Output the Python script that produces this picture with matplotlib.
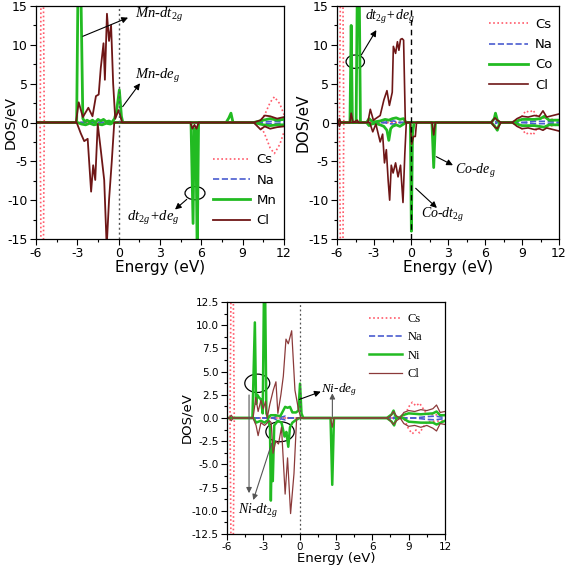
import matplotlib
matplotlib.use("Agg")
import matplotlib.pyplot as plt
from matplotlib.patches import Ellipse
from matplotlib.ticker import MultipleLocator, FormatStrFormatter

plt.rcParams['axes.unicode_minus'] = False
plt.rcParams['mathtext.fontset'] = 'custom'
plt.rcParams['mathtext.rm'] = 'Liberation Serif'
plt.rcParams['mathtext.it'] = 'Liberation Serif:italic'

# ---------------- Panel 1 : Mn ----------------
cs1_up_x = [-6, -5.7, -5.55, -5.4, 10.2, 10.6, 11.0, 11.3, 11.7, 12.0]
cs1_up_y = [0, 0, 40, 0, 0, 1.0, 2.6, 3.3, 2.4, 1.0]
cs1_dn_x = [-6, -5.7, -5.55, -5.4, 10.2, 10.6, 11.0, 11.3, 11.7, 12.0]
cs1_dn_y = [0, 0, -40, 0, 0, -1.5, -3.3, -4.0, -2.8, -1.2]
na1_up_x = [-6, 10.0, 10.6, 11.2, 12]
na1_up_y = [0, 0, 0.1, 0.15, 0.1]
na1_dn_x = [-6, 10.0, 10.6, 11.2, 12]
na1_dn_y = [0, 0, -0.1, -0.15, -0.1]
mn_up_x = [-6, -3.05, -2.95, -2.75, -2.6, -2.45, -2.3, -2.1, -1.9, -1.7, -1.5, -1.3, -1.1,
           -0.9, -0.7, -0.5, -0.3, -0.15, 0.05, 0.2, 0.3, 7.8, 8.0, 8.15, 8.3, 9.8, 10.5,
           11.0, 11.5, 12]
mn_up_y = [0, 0, 18, 18, 0.5, 0.1, 0.3, 0.1, 0.3, 0.0, 0.4, 0.2, 0.4,
           0.1, 0.2, 0, 0.5, 1.5, 4.2, 0.8, 0, 0, 0.6, 1.2, 0, 0, 0.3,
           0.5, 0.3, 0.4]
mn_dn_x = [-6, -3.0, -2.7, -2.4, -2.1, -1.8, -1.5, -1.2, -0.9, -0.6, -0.4, 5.25, 5.4, 5.48,
           5.6, 5.7, 5.8, 9.8, 10.5, 11.0, 11.5, 12]
mn_dn_y = [0, 0, -0.2, -0.3, -0.1, -0.3, -0.2, -0.3, -0.1, -0.2, 0, 0, -13, -0.8,
           -0.8, -17, 0, 0, -0.3, -0.4, -0.3, -0.3]
cl1_up_x = [-6, -3.1, -2.9, -2.6, -2.2, -1.9, -1.65, -1.45, -1.3, -1.1, -1.0, -0.85, -0.7,
            -0.55, -0.4, -0.25, 0.0, 0.25, 9.8, 10.3, 10.6, 11.0, 11.5, 12]
cl1_up_y = [0, 0, 2.6, 0.7, 1.9, 0.8, 3.4, 3.6, 7.0, 10.2, 5.5, 14.0, 10.5,
            12.5, 5.0, 0.5, 1.6, 0, 0, 0.3, 0.9, 0.8, 0.5, 0.7]
cl1_dn_x = [-6, -3.05, -2.75, -2.5, -2.25, -2.0, -1.85, -1.7, -1.52, -1.3, -1.05, -0.87,
            -0.7, -0.5, -0.32, 5.2, 5.35, 5.5, 5.65, 5.8, 9.8, 10.3, 10.6, 11.0, 11.5, 12]
cl1_dn_y = [0, 0, -1.4, -2.4, -2.1, -8.9, -5.5, -7.4, -0.2, -3.5, -7.4, -16,
            -10, -5, 0, 0, -0.8, -0.3, -0.8, 0, 0, -0.9, -0.5, -0.8, -0.6, -0.5]

# ---------------- Panel 2 : Co ----------------
cs2_up_x = [-6, -5.8, -5.62, -5.45, 8.6, 9.0, 9.3, 9.6, 9.9, 10.2, 10.6, 11.0, 12]
cs2_up_y = [0, 0, 40, 0, 0, 0.8, 1.5, 1.3, 1.6, 0.8, 0.6, 0.5, 0.3]
cs2_dn_x = [-6, -5.8, -5.62, -5.45, 8.6, 9.0, 9.3, 9.6, 9.9, 10.2, 10.6, 11.0, 12]
cs2_dn_y = [0, 0, -40, 0, 0, -0.8, -1.5, -1.3, -1.6, -0.8, -0.6, -0.5, -0.3]
na2_up_x = [-6, -2.2, -1.8, -1.4, -1.0, 6.6, 6.8, 7.0, 9.0, 10.0, 10.8, 12]
na2_up_y = [0, 0, 0.15, 0.2, 0, 0, 0.2, 0, 0, 0.15, 0.15, 0.05]
na2_dn_x = [-6, -2.2, -1.8, -1.4, -1.0, 6.6, 6.8, 7.0, 9.0, 10.0, 10.8, 12]
na2_dn_y = [0, 0, -0.15, -0.2, 0, 0, -0.2, 0, 0, -0.15, -0.15, -0.05]
co_up_x = [-6, -4.95, -4.85, -4.75, -4.45, -4.35, -4.2, -4.1, -3.6, -3.4, -3.2, -2.9, -2.5,
           -2.1, -1.8, -1.5, -1.2, -0.9, -0.6, -0.4, 6.5, 6.75, 6.85, 7.0, 7.2, 8.2, 9.0,
           10.0, 10.5, 10.8, 11.2, 12]
co_up_y = [0, 0, 12.5, 0, 0, 18, 18, 0, 0, 0.5, 0.2, 0.1, 0.2,
           0.4, 0.3, 0.5, 0.6, 0.4, 0.5, 0, 0, 0.5, 1.2, 0.3, 0, 0, 0.4,
           0.4, 0.5, 0.8, 0.3, 0.3]
co_dn_x = [-6, -3.6, -3.4, -3.2, -2.9, -2.5, -2.2, -1.95, -1.8, -1.65, -1.5, -1.2, -0.9,
           -0.6, -0.4, -0.05, 0.03, 0.12, 0.25, 1.7, 1.84, 1.98, 6.5, 6.8, 7.0, 7.2, 8.2,
           9.0, 10.0, 10.8, 11.2, 12]
co_dn_y = [0, 0, -0.4, -0.2, -0.1, -0.3, -0.5, -1.0, -2.3, -0.8, -0.5, -0.3, -0.5,
           -0.2, 0, 0, -14, -1.5, 0, 0, -5.8, 0, 0, -0.5, -1.0, 0, 0,
           -0.4, -0.4, -0.6, -0.3, -0.3]
cl2_up_x = [-6, -5.9, -5.8, -5.7, -4.95, -4.85, -4.7, -4.35, -4.25, -3.5, -3.3, -3.05, -2.5,
            -2.2, -1.95, -1.75, -1.52, -1.43, -1.25, -1.1, -0.98, -0.85, -0.72, -0.6,
            -0.46, 6.5, 6.8, 7.0, 7.3, 8.2, 8.6, 9.0, 9.5, 10.0, 10.4, 10.7, 11.0, 11.5, 12]
cl2_up_y = [0, 0, 0.5, 0, 0, 1.2, 0, 0.3, 0, 0, 1.7, 0.3, 0.9,
            2.9, 4.1, 2.2, 3.9, 9.8, 8.9, 10.4, 9.3, 10.7, 10.8, 10.6,
            0, 0, 0.6, 0.3, 0, 0, 0.5, 0.8, 0.7, 0.9, 0.8, 1.5, 0.7, 0.9, 1.1]
cl2_dn_x = [-6, -5.9, -5.8, -5.7, -3.35, -3.1, -2.85, -2.5, -2.3, -2.15, -2.0, -1.85, -1.73,
            -1.6, -1.45, -1.25, -1.05, -0.85, -0.65, -0.5, -0.38, -0.05, 0.05, 0.2, 0.35,
            0.45, 1.7, 1.84, 1.98, 6.5, 6.8, 7.0, 7.3, 8.2, 8.6, 9.0, 9.5, 10.0, 10.4,
            10.7, 11.0, 11.5, 12]
cl2_dn_y = [0, 0, -0.5, 0, 0, -1.2, -0.2, -2.5, -1.5, -5.2, -3.5, -7.5, -10.0,
            -5.5, -6.5, -5.2, -7.0, -5.5, -10.3, -4.0, 0, 0, -2.8, -1.8, -1.8,
            0, 0, -1.6, 0, 0, -0.6, -0.8, 0, 0, -0.5, -0.8, -0.7, -0.9, -0.8,
            -1.0, -0.7, -0.9, -1.1]

# ---------------- Panel 3 : Ni ----------------
cs3_up_x = [-6, -5.75, -5.58, -5.4, 8.6, 9.0, 9.3, 9.6, 9.9, 10.2, 10.5, 12]
cs3_up_y = [0, 0, 30, 0, 0, 1.2, 1.7, 1.3, 1.6, 1.0, 0.4, 0.3]
cs3_dn_x = [-6, -5.75, -5.58, -5.4, 8.6, 9.0, 9.3, 9.6, 9.9, 10.2, 10.5, 12]
cs3_dn_y = [0, 0, -30, 0, 0, -1.2, -1.7, -1.3, -1.6, -1.0, -0.4, -0.3]
na3_up_x = [-6, -2.2, -1.9, -1.5, -1.2, -0.9, 7.4, 7.6, 7.8, 9.5, 10.5, 11.2, 12]
na3_up_y = [0, 0, 0.2, 0.1, 0.2, 0, 0, 0.2, 0, 0, 0.15, 0.2, 0.05]
na3_dn_x = [-6, -2.2, -1.9, -1.5, -1.2, -0.9, 7.4, 7.6, 7.8, 9.5, 10.5, 11.2, 12]
na3_dn_y = [0, 0, -0.2, -0.1, -0.2, 0, 0, -0.2, 0, 0, -0.15, -0.2, -0.05]
ni_up_x = [-6, -3.9, -3.7, -3.6, -3.5, -3.35, -3.2, -3.05, -2.95, -2.85, -2.75, -2.6, -2.4,
           -2.0, -1.6, -1.2, -1.0, -0.8, -0.6, -0.3, -0.1, 0.03, 0.15, 0.3, 7.2, 7.6, 7.75,
           7.9, 8.2, 8.5, 9.0, 10.0, 11.0, 11.3, 11.6, 12]
ni_up_y = [0, 0, 10.3, 1.5, 2.5, 2.2, 2.0, 0.5, 13.5, 13.5, 0.5, 0, 0.3,
           0.3, 0.2, 1.2, 1.1, 1.2, 0.6, 0.6, 0.8, 3.7, 0.5, 0, 0, 0.4, 0.8,
           0.2, 0, 0.3, 0.5, 0.4, 0.5, 0.7, 0.3, 0.3]
ni_dn_x = [-6, -3.8, -3.6, -3.2, -2.9, -2.6, -2.45, -2.38, -2.3, -2.22, -2.1, -1.8, -1.5,
           -1.25, -1.1, -0.94, -0.8, -0.6, -0.3, 0, 2.55, 2.69, 2.83, 7.2, 7.6, 7.8, 8.0,
           8.5, 9.0, 10.0, 11.0, 11.3, 12]
ni_dn_y = [0, 0, -0.5, -0.3, -0.5, -0.2, -1.0, -8.9, -3.0, -6.8, -0.8, -0.3, -0.5,
           -2.0, -1.5, -3.1, -1.0, -0.5, -0.2, 0, 0, -7.2, 0, 0, -0.4, -0.8, 0,
           0, -0.4, -0.5, -0.5, -0.7, -0.3]
cl3_up_x = [-6, -5.8, -5.65, -5.5, -3.85, -3.62, -3.43, -3.2, -3.0, -2.82, -2.68, -2.46,
            -2.18, -1.96, -1.8, -1.55, -1.35, -1.13, -0.94, -0.66, -0.39, -0.11, 0.1, 7.2,
            7.5, 7.75, 8.0, 8.3, 8.6, 9.0, 9.5, 10.0, 10.5, 11.0, 11.3, 11.6, 12]
cl3_up_y = [0, 0, 0.3, 0, 0, 2.2, 0.7, 1.9, 1.0, 1.8, 0, 1.5,
            3.0, 3.9, 0.5, 2.5, 4.5, 8.5, 8.0, 9.4, 3.0, 1.0, 0, 0,
            0.2, 0.7, 0.2, 0, 0.6, 0.8, 0.7, 0.9, 0.8, 1.0, 1.4, 0.6, 0.7]
cl3_dn_x = [-6, -5.8, -5.65, -5.5, -3.85, -3.6, -3.43, -3.2, -2.9, -2.5, -2.35, -2.2,
            -1.97, -1.75, -1.5, -1.2, -1.0, -0.75, -0.47, -0.25, 2.55, 2.69, 2.83, 7.2,
            7.5, 7.75, 8.0, 8.3, 8.6, 9.0, 9.5, 10.0, 10.5, 11.0, 11.3, 11.6, 12]
cl3_dn_y = [0, 0, -0.3, 0, 0, -0.8, -1.9, -0.5, -0.8, -0.3, -0.5, -3.8,
            -2.5, -2.8, -1.0, -8.2, -4.3, -10.3, -6.0, 0, 0, -1.0, 0, 0,
            -0.3, -0.7, -0.3, 0, -0.6, -0.9, -0.8, -1.0, -0.8, -1.1, -1.4, -0.6, -0.7]

x_ticks = [-6, -3, 0, 3, 6, 9, 12]
legend_labels1 = ['Cs', 'Na', 'Mn', 'Cl']
legend_labels2 = ['Cs', 'Na', 'Co', 'Cl']
legend_labels3 = ['Cs', 'Na', 'Ni', 'Cl']

C_CS = '#ff5a6a'
C_NA = '#4a5ccf'
C_TM = '#22bb22'
C_CL = '#6e1616'
C_CL3 = '#8b3a3a'

fig = plt.figure(figsize=(5.67, 5.71), dpi=100)
ax1 = fig.add_axes([36/567, 1-239/571, 248/567, 233/571])
ax2 = fig.add_axes([337/567, 1-239/571, 222/567, 233/571])
ax3 = fig.add_axes([227/567, 1-534/571, 218/567, 232/571])


def draw(ax, cs, na, tm, cl, cl_color, tm_lw, cl_lw):
    l1, = ax.plot(cs[0], cs[1], color=C_CS, ls=(0, (1, 1.5)), lw=1.2)
    ax.plot(cs[2], cs[3], color=C_CS, ls=(0, (1, 1.5)), lw=1.2)
    l2, = ax.plot(na[0], na[1], color=C_NA, ls='--', lw=1.2)
    ax.plot(na[2], na[3], color=C_NA, ls='--', lw=1.2)
    l3, = ax.plot(tm[0], tm[1], color=C_TM, lw=tm_lw)
    ax.plot(tm[2], tm[3], color=C_TM, lw=tm_lw)
    l4, = ax.plot(cl[0], cl[1], color=cl_color, lw=cl_lw)
    ax.plot(cl[2], cl[3], color=cl_color, lw=cl_lw)
    return [l1, l2, l3, l4]


def style(ax, ylim, ymaj, ymin, fs, lfs, fmt, ylab_x):
    ax.set_xlim(-6, 12)
    ax.set_ylim(*ylim)
    ax.set_xticks(x_ticks)
    ax.xaxis.set_minor_locator(MultipleLocator(1.5))
    ax.yaxis.set_major_locator(MultipleLocator(ymaj))
    ax.yaxis.set_minor_locator(MultipleLocator(ymin))
    ax.yaxis.set_major_formatter(FormatStrFormatter(fmt))
    ax.tick_params(which='major', direction='out', length=4, width=0.8, labelsize=fs,
                   top=False, right=False, pad=2)
    ax.tick_params(which='minor', direction='out', length=2, width=0.8, top=False, right=False)
    ax.set_xlabel('Energy (eV)', fontsize=lfs, labelpad=0)
    ax.set_ylabel('DOS/eV', fontsize=lfs)
    ax.yaxis.set_label_coords(ylab_x, 0.5)
    for s in ax.spines.values():
        s.set_linewidth(0.9)


ann_font = dict(family='Liberation Serif', style='italic')
arrow_k = dict(arrowstyle='-|>', color='k', lw=0.8, shrinkA=0, shrinkB=0, mutation_scale=9)
arrow_g = dict(arrowstyle='-|>', color='#555555', lw=0.8, shrinkA=0, shrinkB=0, mutation_scale=8)

# Panel 1
h = draw(ax1, (cs1_up_x, cs1_up_y, cs1_dn_x, cs1_dn_y), (na1_up_x, na1_up_y, na1_dn_x, na1_dn_y),
         (mn_up_x, mn_up_y, mn_dn_x, mn_dn_y), (cl1_up_x, cl1_up_y, cl1_dn_x, cl1_dn_y),
         C_CL, 2.0, 1.3)
ax1.axvline(0, color='#555555', ls=(0, (1.5, 2)), lw=1.0)
style(ax1, (-15, 15), 5, 2.5, 9, 11, '%d', -0.078)
ax1.yaxis.label.set_size(10)
ax1.legend(h, legend_labels1, loc='lower left', bbox_to_anchor=(0.665, 0.0), frameon=False,
           fontsize=9.5, handlelength=2.8, labelspacing=0.55, handletextpad=0.5)
ax1.annotate('', xy=(0.68, 13.5), xytext=(-2.6, 11.1), arrowprops=arrow_k)
ax1.text(1.2, 13.8, 'Mn-dt$_{2g}$', fontsize=10.5, va='center', ha='left', **ann_font)
ax1.annotate('', xy=(1.55, 5.05), xytext=(0.29, 2.04), arrowprops=arrow_k)
ax1.text(1.2, 6.0, 'Mn-de$_{g}$', fontsize=10.5, va='center', ha='left', **ann_font)
ax1.add_patch(Ellipse((5.54, -9.1), 1.45, 1.7, fill=False, ec='k', lw=0.9))
ax1.annotate('', xy=(4.09, -11.2), xytext=(4.94, -9.9), arrowprops=arrow_k)
ax1.text(0.6, -12.3, 'dt$_{2g}$+de$_{g}$', fontsize=10.5, va='center', ha='left', **ann_font)

# Panel 2
h = draw(ax2, (cs2_up_x, cs2_up_y, cs2_dn_x, cs2_dn_y), (na2_up_x, na2_up_y, na2_dn_x, na2_dn_y),
         (co_up_x, co_up_y, co_dn_x, co_dn_y), (cl2_up_x, cl2_up_y, cl2_dn_x, cl2_dn_y),
         C_CL, 2.0, 1.2)
ax2.axvline(0, color='k', ls=(0, (4, 3)), lw=1.0)
style(ax2, (-15, 15), 5, 2.5, 9, 11, '%d', -0.12)
ax2.legend(h, legend_labels2, loc='upper left', bbox_to_anchor=(0.63, 1.0), frameon=False,
           fontsize=9.5, handlelength=3.0, labelspacing=0.55, handletextpad=0.5)
ax2.add_patch(Ellipse((-4.52, 7.83), 1.49, 1.72, fill=False, ec='k', lw=0.9))
ax2.annotate('', xy=(-2.81, 11.9), xytext=(-4.03, 8.69), arrowprops=arrow_k)
ax2.text(-3.7, 13.6, 'dt$_{2g}$+de$_{g}$', fontsize=10, va='center', ha='left', **ann_font)
ax2.annotate('', xy=(3.4, -5.5), xytext=(2.05, -4.4), arrowprops=arrow_k)
ax2.text(3.6, -6.3, 'Co-de$_{g}$', fontsize=10, va='center', ha='left', **ann_font)
ax2.annotate('', xy=(2.1, -11.0), xytext=(0.38, -8.47), arrowprops=arrow_k)
ax2.text(0.8, -11.9, 'Co-dt$_{2g}$', fontsize=10, va='center', ha='left', **ann_font)

# Panel 3
h = draw(ax3, (cs3_up_x, cs3_up_y, cs3_dn_x, cs3_dn_y), (na3_up_x, na3_up_y, na3_dn_x, na3_dn_y),
         (ni_up_x, ni_up_y, ni_dn_x, ni_dn_y), (cl3_up_x, cl3_up_y, cl3_dn_x, cl3_dn_y),
         C_CL3, 1.8, 0.9)
ax3.axvline(0, color='#555555', ls=(0, (1.5, 2)), lw=0.9)
style(ax3, (-12.5, 12.5), 2.5, 1.25, 7.5, 9.5, '%.1f', -0.155)
ax3.legend(h, legend_labels3, loc='upper left', bbox_to_anchor=(0.6, 1.0), frameon=False,
           prop=dict(family='Liberation Serif', size=9), handlelength=2.6, labelspacing=0.5,
           handletextpad=0.5)
ax3.add_patch(Ellipse((-3.5, 3.74), 2.06, 1.98, fill=False, ec='k', lw=0.9))
ax3.add_patch(Ellipse((-1.62, -1.48), 2.34, 2.15, fill=False, ec='k', lw=0.9))
ax3.annotate('', xy=(-4.18, -8.1), xytext=(-4.18, 2.48), arrowprops=arrow_g)
ax3.annotate('', xy=(-3.83, -8.84), xytext=(-2.31, -2.73), arrowprops=arrow_g)
ax3.text(-5.1, -10.0, 'Ni-dt$_{2g}$', fontsize=10, va='center', ha='left', **ann_font)
ax3.annotate('', xy=(1.74, 2.84), xytext=(-0.03, 2.0), arrowprops=arrow_k)
ax3.text(1.8, 3.1, 'Ni-de$_{g}$', fontsize=9.5, va='center', ha='left', **ann_font)
ax3.annotate('', xy=(2.7, 2.66), xytext=(2.7, 0.14), arrowprops=arrow_g)

fig.savefig('out.png', dpi=100)
